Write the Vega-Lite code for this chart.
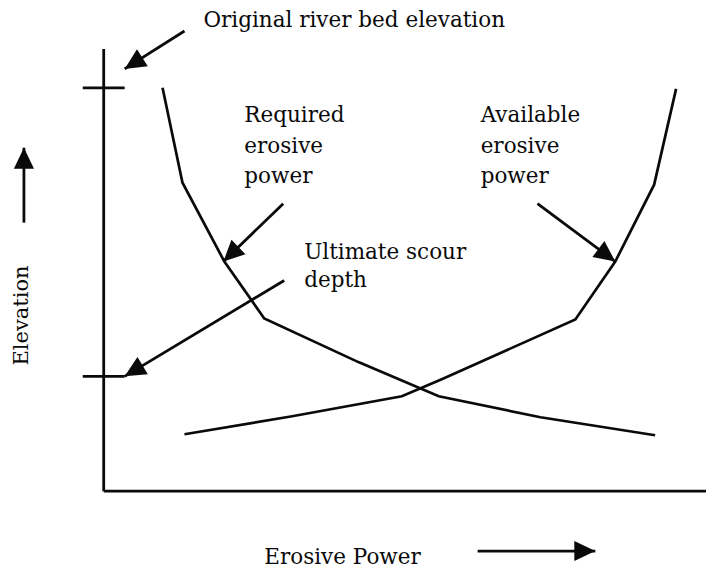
{
  "$schema": "https://vega.github.io/schema/vega-lite/v6.json",
  "width": 708,
  "height": 569,
  "autosize": {"type": "fit", "contains": "padding"},
  "padding": 0,
  "background": "white",
  "config": {"view": {"stroke": null}},
  "datasets": {
    "curves": [
      {"curve": "Required erosive power", "ord": 1, "power": 59, "elev": 404},
      {"curve": "Required erosive power", "ord": 2, "power": 79, "elev": 309},
      {"curve": "Required erosive power", "ord": 3, "power": 121, "elev": 230},
      {"curve": "Required erosive power", "ord": 4, "power": 161, "elev": 173},
      {"curve": "Required erosive power", "ord": 5, "power": 256, "elev": 129},
      {"curve": "Required erosive power", "ord": 6, "power": 336, "elev": 95},
      {"curve": "Required erosive power", "ord": 7, "power": 438, "elev": 74},
      {"curve": "Required erosive power", "ord": 8, "power": 553, "elev": 56},
      {"curve": "Available erosive power", "ord": 1, "power": 81, "elev": 57},
      {"curve": "Available erosive power", "ord": 2, "power": 189, "elev": 75},
      {"curve": "Available erosive power", "ord": 3, "power": 299, "elev": 95},
      {"curve": "Available erosive power", "ord": 4, "power": 339, "elev": 112},
      {"curve": "Available erosive power", "ord": 5, "power": 473, "elev": 172},
      {"curve": "Available erosive power", "ord": 6, "power": 513, "elev": 230},
      {"curve": "Available erosive power", "ord": 7, "power": 552, "elev": 307},
      {"curve": "Available erosive power", "ord": 8, "power": 574, "elev": 403}
    ],
    "axes": [
      {"x": 0, "y": 443, "x2": 0, "y2": 0},
      {"x": 0, "y": 0, "x2": 604, "y2": 0},
      {"x": -21, "y": 404, "x2": 21, "y2": 404},
      {"x": -21, "y": 115, "x2": 21, "y2": 115}
    ],
    "arrows": [
      {"label": "Original river bed elevation", "tailx": 81, "taily": 461, "tipx": 21, "tipy": 423},
      {"label": "Required erosive power", "tailx": 180, "taily": 288, "tipx": 120, "tipy": 230},
      {"label": "Ultimate scour depth", "tailx": 181, "taily": 211, "tipx": 21, "tipy": 115},
      {"label": "Available erosive power", "tailx": 435, "taily": 288, "tipx": 513, "tipy": 230},
      {"label": "Elevation", "tailx": -80, "taily": 269, "tipx": -80, "tipy": 344},
      {"label": "Erosive Power", "tailx": 375, "taily": -60, "tipx": 493, "tipy": -60}
    ],
    "labels": [
      {"text": "Original river bed elevation", "x": 100, "y": 465},
      {"text": "Required", "x": 141, "y": 370},
      {"text": "erosive", "x": 141, "y": 339},
      {"text": "power", "x": 141, "y": 309},
      {"text": "Available", "x": 378, "y": 370},
      {"text": "erosive", "x": 378, "y": 339},
      {"text": "power", "x": 378, "y": 309},
      {"text": "Ultimate scour", "x": 201, "y": 233},
      {"text": "depth", "x": 201, "y": 204},
      {"text": "Erosive Power", "x": 161, "y": -73}
    ],
    "vlabels": [
      {"text": "Elevation", "x": -82, "y": 176}
    ]
  },
  "layer": [
    {
      "data": {"name": "axes"},
      "mark": {"type": "rule", "color": "#0a0a0a", "strokeWidth": 2.8},
      "encoding": {
        "x": {"field": "x", "type": "quantitative", "scale": {"domain": [-104, 604], "nice": false, "zero": false}, "axis": null},
        "y": {"field": "y", "type": "quantitative", "scale": {"domain": [-77, 492], "nice": false, "zero": false}, "axis": null},
        "x2": {"field": "x2"},
        "y2": {"field": "y2"}
      }
    },
    {
      "data": {"name": "curves"},
      "mark": {"type": "line", "color": "#0a0a0a", "strokeWidth": 2.7, "strokeJoin": "miter"},
      "encoding": {
        "x": {"field": "power", "type": "quantitative"},
        "y": {"field": "elev", "type": "quantitative"},
        "detail": {"field": "curve"},
        "order": {"field": "ord", "type": "quantitative"}
      }
    },
    {
      "data": {"name": "arrows"},
      "mark": {"type": "rule", "color": "#0a0a0a", "strokeWidth": 2.8},
      "encoding": {
        "x": {"field": "tailx", "type": "quantitative"},
        "y": {"field": "taily", "type": "quantitative"},
        "x2": {"field": "tipx"},
        "y2": {"field": "tipy"}
      }
    },
    {
      "data": {"name": "arrows"},
      "transform": [
        {"calculate": "atan2(datum.tipx - datum.tailx, datum.tipy - datum.taily) * 180 / PI", "as": "ang"}
      ],
      "mark": {"type": "point", "filled": true, "opacity": 1, "color": "#0a0a0a", "shape": "M0,0L0.48,1L-0.48,1Z", "size": 1764, "strokeWidth": 0},
      "encoding": {
        "x": {"field": "tipx", "type": "quantitative"},
        "y": {"field": "tipy", "type": "quantitative"},
        "angle": {"field": "ang", "type": "quantitative", "scale": null}
      }
    },
    {
      "data": {"name": "labels"},
      "mark": {"type": "text", "align": "left", "baseline": "alphabetic", "font": "DejaVu Serif", "fontSize": 21.5, "color": "#0a0a0a"},
      "encoding": {
        "x": {"field": "x", "type": "quantitative"},
        "y": {"field": "y", "type": "quantitative"},
        "text": {"field": "text"}
      }
    },
    {
      "data": {"name": "vlabels"},
      "mark": {"type": "text", "align": "center", "baseline": "middle", "angle": 270, "font": "DejaVu Serif", "fontSize": 21, "color": "#0a0a0a"},
      "encoding": {
        "x": {"field": "x", "type": "quantitative"},
        "y": {"field": "y", "type": "quantitative"},
        "text": {"field": "text"}
      }
    }
  ]
}
